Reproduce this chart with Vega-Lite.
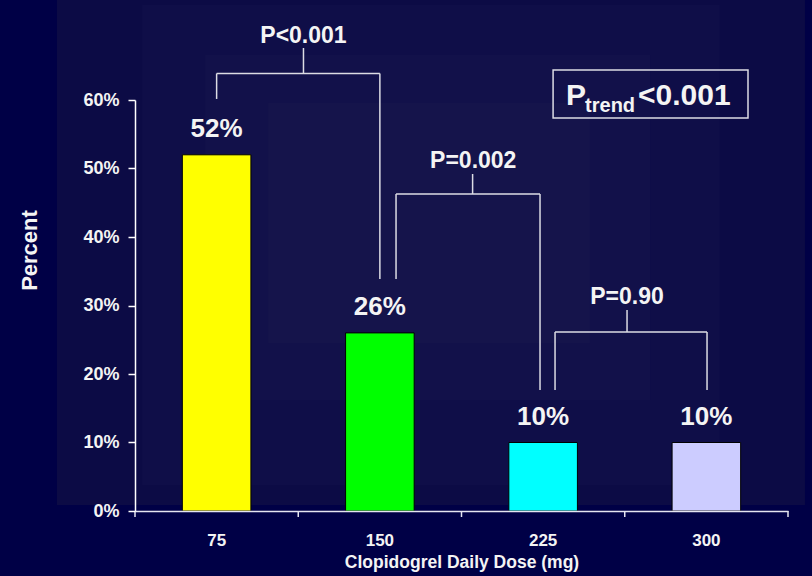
{
  "$schema": "https://vega.github.io/schema/vega-lite/v6.json",
  "width": 653,
  "height": 411,
  "autosize": {"type": "none"},
  "padding": {"left": 135, "top": 100, "right": 24, "bottom": 65},
  "background": "#000046",
  "config": {
    "view": {"stroke": null},
    "font": "Liberation Sans",
    "text": {"font": "Liberation Sans", "fontWeight": "bold", "color": "#f4f4f4"}
  },
  "datasets": {
    "panels": [
      {"lvl": 1, "u1": -0.478, "u2": 4.104, "y": 0.746, "y2": 0.0088},
      {"lvl": 2, "u1": 0.043, "u2": 3.583, "y": 0.739, "y2": 0.038},
      {"lvl": 3, "u1": 0.429, "u2": 3.155, "y": 0.666, "y2": 0.162},
      {"lvl": 4, "u1": 0.815, "u2": 2.787, "y": 0.596, "y2": 0.245}
    ],
    "doses": [
      {"dose": "75", "y": 0.52},
      {"dose": "150", "y": 0.26},
      {"dose": "225", "y": 0.10},
      {"dose": "300", "y": 0.10}
    ],
    "xticks": [
      {"u": 0, "y": 0, "y2": -0.0088},
      {"u": 1, "y": 0, "y2": -0.0088},
      {"u": 2, "y": 0, "y2": -0.0088},
      {"u": 3, "y": 0, "y2": -0.0088},
      {"u": 4, "y": 0, "y2": -0.0088}
    ],
    "brackets": [
      {"u1": 0.5, "u2": 0.5, "y": 0.6015, "y2": 0.6387},
      {"u1": 0.5, "u2": 1.5, "y": 0.6387, "y2": 0.6387},
      {"u1": 1.5, "u2": 1.5, "y": 0.6387, "y2": 0.3387},
      {"u1": 1.032, "u2": 1.032, "y": 0.6387, "y2": 0.6759},
      {"u1": 1.599, "u2": 1.599, "y": 0.3387, "y2": 0.4628},
      {"u1": 1.599, "u2": 2.481, "y": 0.4628, "y2": 0.4628},
      {"u1": 2.481, "u2": 2.481, "y": 0.4628, "y2": 0.1766},
      {"u1": 2.068, "u2": 2.068, "y": 0.4628, "y2": 0.492},
      {"u1": 2.573, "u2": 2.573, "y": 0.1766, "y2": 0.2613},
      {"u1": 2.573, "u2": 3.504, "y": 0.2613, "y2": 0.2613},
      {"u1": 3.504, "u2": 3.504, "y": 0.2613, "y2": 0.1766},
      {"u1": 3.014, "u2": 3.014, "y": 0.2613, "y2": 0.2934}
    ],
    "pvalues": [
      {"u": 1.032, "y": 0.6828, "t": "P<0.001"},
      {"u": 2.072, "y": 0.5007, "t": "P=0.002"},
      {"u": 3.014, "y": 0.3022, "t": "P=0.90"}
    ],
    "trendbox": [
      {"u1": 2.561, "u2": 3.755, "y": 0.6438, "y2": 0.5737}
    ],
    "trendmain": [
      {"u": 2.64, "y": 0.5927, "t": "P"},
      {"u": 3.081, "y": 0.5927, "t": "<0.001"}
    ],
    "trendsub": [
      {"u": 2.757, "y": 0.5825, "t": "trend"}
    ]
  },
  "encoding": {
    "y": {
      "field": "y",
      "type": "quantitative",
      "scale": {"domain": [0, 0.6], "nice": false},
      "axis": {
        "title": "Percent",
        "zindex": 1,
        "values": [0, 0.1, 0.2, 0.3, 0.4, 0.5, 0.6],
        "format": ".0%",
        "grid": false,
        "domainColor": "#ffffff",
        "domainWidth": 1.5,
        "tickColor": "#ffffff",
        "tickWidth": 1.5,
        "tickSize": 7,
        "labelColor": "#f4f4f4",
        "labelFont": "Liberation Sans",
        "labelFontWeight": "bold",
        "labelFontSize": 18,
        "labelPadding": 9,
        "titleColor": "#f4f4f4",
        "titleFont": "Liberation Sans",
        "titleFontWeight": "bold",
        "titleFontSize": 22,
        "titleAngle": -90,
        "titleAlign": "center",
        "titleBaseline": "middle",
        "titleX": -106,
        "titleY": 150
      }
    }
  },
  "layer": [
    {
      "data": {"name": "panels"},
      "mark": {"type": "rect"},
      "encoding": {
        "x": {"field": "u1", "type": "quantitative", "scale": {"domain": [0, 4], "nice": false, "zero": false}, "axis": null},
        "x2": {"field": "u2"},
        "y2": {"field": "y2"},
        "fill": {"field": "lvl", "type": "ordinal", "scale": {"domain": [1, 2, 3, 4], "range": ["#0c0b45", "#0f0e48", "#12114a", "#15144b"]}, "legend": null}
      }
    },
    {
      "data": {"name": "doses"},
      "encoding": {
        "x": {
          "field": "dose",
          "type": "ordinal",
          "sort": null,
          "scale": {"paddingInner": 0.58, "paddingOuter": 0.29},
          "axis": {
            "title": "Clopidogrel Daily Dose (mg)",
            "zindex": 1,
            "labelAngle": 0,
            "domainColor": "#e4e4f0",
            "domainWidth": 1.5,
            "ticks": false,
            "labelColor": "#f4f4f4",
            "labelFont": "Liberation Sans",
            "labelFontWeight": "bold",
            "labelFontSize": 17,
            "labelBaseline": "alphabetic",
            "labelPadding": 34,
            "titleColor": "#f4f4f4",
            "titleFont": "Liberation Sans",
            "titleFontWeight": "bold",
            "titleFontSize": 17.5,
            "titleBaseline": "alphabetic",
            "titleY": 56
          }
        }
      },
      "layer": [
        {
          "mark": {"type": "bar", "stroke": "#000000", "strokeWidth": 1},
          "encoding": {
            "color": {
              "field": "dose",
              "type": "nominal",
              "sort": null,
              "scale": {"domain": ["75", "150", "225", "300"], "range": ["#ffff00", "#00ff00", "#00ffff", "#ccccff"]},
              "legend": null
            }
          }
        },
        {
          "mark": {"type": "text", "fontSize": 26, "baseline": "alphabetic", "align": "center", "dy": -18},
          "encoding": {
            "text": {"field": "y", "type": "quantitative", "format": ".0%"}
          }
        }
      ]
    },
    {
      "data": {"name": "xticks"},
      "mark": {"type": "rule", "color": "#e4e4f0", "strokeWidth": 1.5},
      "encoding": {
        "x": {"field": "u", "type": "quantitative", "scale": {"domain": [0, 4], "nice": false, "zero": false}, "axis": null},
        "y2": {"field": "y2"}
      }
    },
    {
      "data": {"name": "brackets"},
      "mark": {"type": "rule", "color": "#dcdce4", "strokeWidth": 1.5},
      "encoding": {
        "x": {"field": "u1", "type": "quantitative", "scale": {"domain": [0, 4], "nice": false, "zero": false}, "axis": null},
        "x2": {"field": "u2"},
        "y2": {"field": "y2"}
      }
    },
    {
      "data": {"name": "pvalues"},
      "mark": {"type": "text", "fontSize": 23, "baseline": "alphabetic", "align": "center"},
      "encoding": {
        "x": {"field": "u", "type": "quantitative", "scale": {"domain": [0, 4], "nice": false, "zero": false}, "axis": null},
        "text": {"field": "t"}
      }
    },
    {
      "data": {"name": "trendbox"},
      "mark": {"type": "rect", "fillOpacity": 0, "stroke": "#dcdce4", "strokeWidth": 1.5},
      "encoding": {
        "x": {"field": "u1", "type": "quantitative", "scale": {"domain": [0, 4], "nice": false, "zero": false}, "axis": null},
        "x2": {"field": "u2"},
        "y2": {"field": "y2"}
      }
    },
    {
      "data": {"name": "trendmain"},
      "mark": {"type": "text", "fontSize": 30, "baseline": "alphabetic", "align": "left"},
      "encoding": {
        "x": {"field": "u", "type": "quantitative", "scale": {"domain": [0, 4], "nice": false, "zero": false}, "axis": null},
        "text": {"field": "t"}
      }
    },
    {
      "data": {"name": "trendsub"},
      "mark": {"type": "text", "fontSize": 20, "baseline": "alphabetic", "align": "left"},
      "encoding": {
        "x": {"field": "u", "type": "quantitative", "scale": {"domain": [0, 4], "nice": false, "zero": false}, "axis": null},
        "text": {"field": "t"}
      }
    }
  ],
  "resolve": {"scale": {"x": "independent"}}
}
